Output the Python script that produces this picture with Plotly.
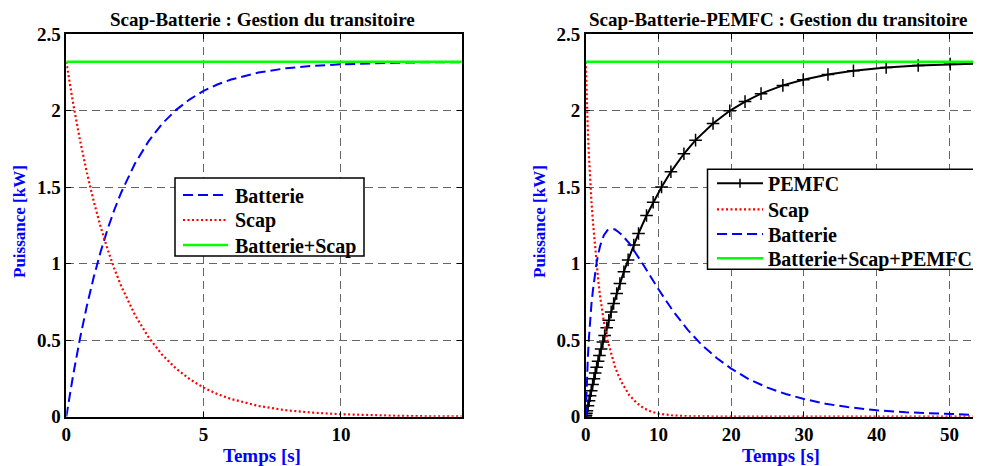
import plotly.graph_objects as go

# ---------------- data ----------------
# Left panel: Scap-Batterie
t_left = [0, 0.25, 0.5, 0.75, 1, 1.25, 1.5, 1.75, 2, 2.5, 3, 3.5, 4, 4.5, 5, 5.5, 6,
          7, 8, 9, 10, 11, 12, 13, 14, 14.4]
batt_left = [0, 0.273, 0.513, 0.725, 0.913, 1.078, 1.224, 1.353, 1.466, 1.655, 1.802,
             1.917, 2.006, 2.075, 2.130, 2.172, 2.204, 2.250, 2.278, 2.294, 2.304,
             2.311, 2.314, 2.317, 2.318, 2.318]
scap_left = [2.32, 2.047, 1.807, 1.595, 1.407, 1.242, 1.096, 0.967, 0.854, 0.665, 0.518,
             0.403, 0.314, 0.245, 0.190, 0.148, 0.116, 0.070, 0.042, 0.026, 0.016,
             0.009, 0.006, 0.003, 0.002, 0.002]
total_left_t = [0, 14.4]
total_left = [2.32, 2.32]

# Right panel: Scap-Batterie-PEMFC
t_right = [0, 0.1, 0.2, 0.3, 0.45, 0.6, 0.8, 1.0, 1.25, 1.5, 1.75, 2.0, 2.5, 3.0, 3.5,
           4.0, 4.5, 5, 6, 7, 8, 9, 10, 12, 14, 16, 18, 20, 22.5, 25, 27.5, 30, 33, 36,
           40, 44, 48, 52, 54.5]
scap_right = [2.32, 2.14, 1.98, 1.86, 1.70, 1.54, 1.40, 1.27, 1.12, 0.99, 0.88, 0.78,
              0.62, 0.50, 0.41, 0.33, 0.27, 0.22, 0.14, 0.09, 0.055, 0.033, 0.02, 0.008,
              0.003, 0.001, 0, 0, 0, 0, 0, 0, 0, 0, 0, 0, 0, 0, 0]
batt_right = [0, 0.157, 0.294, 0.391, 0.518, 0.645, 0.742, 0.829, 0.928, 1.007, 1.068,
              1.119, 1.186, 1.219, 1.225, 1.225, 1.208, 1.187, 1.133, 1.062, 0.987,
              0.910, 0.833, 0.691, 0.569, 0.467, 0.384, 0.314, 0.243, 0.190, 0.148,
              0.116, 0.084, 0.063, 0.042, 0.029, 0.020, 0.013, 0.010]
t_pemfc = [0, 0.04, 0.1, 0.17, 0.31, 0.46, 0.61, 0.76, 0.95, 1.13, 1.31, 1.5, 1.7, 1.89,
           2.12, 2.36, 2.6, 2.89, 3.17, 3.5, 3.84, 4.26, 4.7, 5.25, 5.83, 6.61, 7.26,
           8.36, 9.27, 10.43, 11.71, 13.5, 15.1, 17.5, 19.8, 21.9, 24.1, 27.1, 29.9,
           33.3, 36.8, 41.3, 45.7, 50.1, 54.5]
pemfc = [0, 0.009, 0.023, 0.039, 0.071, 0.104, 0.137, 0.170, 0.210, 0.248, 0.285, 0.323,
         0.363, 0.400, 0.443, 0.488, 0.531, 0.582, 0.630, 0.685, 0.740, 0.805, 0.870,
         0.948, 1.025, 1.122, 1.198, 1.315, 1.402, 1.502, 1.601, 1.719, 1.808, 1.917,
         2.000, 2.060, 2.112, 2.166, 2.203, 2.237, 2.262, 2.283, 2.296, 2.305, 2.310]
total_right_t = [0, 54.5]
total_right = [2.32, 2.32]

left_xticks = [0, 5, 10]
right_xticks = [0, 10, 20, 30, 40, 50]
yticks = [0, 0.5, 1, 1.5, 2, 2.5]
ytick_text = ["0", "0.5", "1", "1.5", "2", "2.5"]

left_legend = ["Batterie", "Scap", "Batterie+Scap"]
right_legend = ["PEMFC", "Scap", "Batterie", "Batterie+Scap+PEMFC"]

# ---------------- styling ----------------
FAM = "Liberation Serif, Times New Roman, serif"
BLUE = "#0000ff"
RED = "#ff0000"
GREEN = "#00ff00"
DASH = "10px,5px"
DOT = "2px,2.5px"

# page has an 8px body margin: figure is 8px smaller than the window
OFF = 8
W, H = 981 - OFF, 466 - OFF


def px(x):
    return (x - OFF) / W


def py(y):
    return 1 - (y - OFF) / H


styles_left = [dict(color=BLUE, width=2, dash=DASH),
               dict(color=RED, width=2.2, dash=DOT),
               dict(color=GREEN, width=2.5)]
styles_right = [dict(color="black", width=2),
                dict(color=RED, width=2.2, dash=DOT),
                dict(color=BLUE, width=2, dash=DASH),
                dict(color=GREEN, width=2.5)]

fig = go.Figure()

# Left panel traces
fig.add_trace(go.Scatter(x=t_left, y=batt_left, mode="lines", name=left_legend[0],
                         line=styles_left[0], xaxis="x", yaxis="y"))
fig.add_trace(go.Scatter(x=t_left, y=scap_left, mode="lines", name=left_legend[1],
                         line=styles_left[1], xaxis="x", yaxis="y"))
fig.add_trace(go.Scatter(x=total_left_t, y=total_left, mode="lines", name=left_legend[2],
                         line=styles_left[2], xaxis="x", yaxis="y"))

# Right panel traces
fig.add_trace(go.Scatter(x=t_pemfc, y=pemfc, mode="lines+markers", name=right_legend[0],
                         line=styles_right[0],
                         marker=dict(symbol="cross-thin", size=9, color="black",
                                     line=dict(color="black", width=1.5)),
                         xaxis="x2", yaxis="y2"))
fig.add_trace(go.Scatter(x=t_right, y=scap_right, mode="lines", name=right_legend[1],
                         line=styles_right[1], xaxis="x2", yaxis="y2"))
fig.add_trace(go.Scatter(x=t_right, y=batt_right, mode="lines", name=right_legend[2],
                         line=styles_right[2], xaxis="x2", yaxis="y2"))
fig.add_trace(go.Scatter(x=total_right_t, y=total_right, mode="lines",
                         name=right_legend[3], line=styles_right[3],
                         xaxis="x2", yaxis="y2"))

tickfont = dict(family=FAM, size=19, color="black", weight="bold")
axis_common = dict(showline=True, linecolor="black", linewidth=1.5, mirror="ticks",
                   ticks="inside", ticklen=5, tickcolor="black", tickwidth=1,
                   showgrid=True, gridcolor="#666666", gridwidth=1, griddash="8px,5px",
                   zeroline=False, tickfont=tickfont, fixedrange=True,
                   automargin=False)

ydom = [py(416.7), py(34.3)]

fig.update_layout(
    template="none",
    width=W, height=H,
    margin=dict(l=0, r=0, t=0, b=0, pad=0, autoexpand=False),
    paper_bgcolor="white", plot_bgcolor="white",
    showlegend=False,
    xaxis=dict(domain=[px(66.3), px(461.7)], range=[0, 14.4], tickvals=left_xticks,
               anchor="y", **axis_common),
    yaxis=dict(domain=ydom, range=[0, 2.5], tickvals=yticks, ticktext=ytick_text,
               anchor="x", **axis_common),
    xaxis2=dict(domain=[px(585.7), px(979.3)], range=[0, 54.1], tickvals=right_xticks,
                anchor="y2", **axis_common),
    yaxis2=dict(domain=ydom, range=[0, 2.5], tickvals=yticks, ticktext=ytick_text,
                anchor="x2", **axis_common),
)

# ---------------- legends (boxes drawn in page space) ----------------
shapes = []
annotations = []
legend_font = dict(family=FAM, size=20, color="black", weight="bold")


def add_legend(box, rows, names, styles, x_line, x_text, marker_idx=None):
    x0, y0_, x1, y1_ = box
    shapes.append(dict(type="rect", xref="paper", yref="paper",
                       x0=px(x0), x1=px(x1), y0=py(y1_), y1=py(y0_),
                       line=dict(color="black", width=1.5), fillcolor="white",
                       layer="above"))
    for i, (yc, name, st) in enumerate(zip(rows, names, styles)):
        shapes.append(dict(type="line", xref="paper", yref="paper",
                           x0=px(x_line[0]), x1=px(x_line[1]), y0=py(yc), y1=py(yc),
                           line=st, layer="above"))
        if marker_idx is not None and i == marker_idx:
            xc = (x_line[0] + x_line[1]) / 2
            shapes.append(dict(type="line", xref="paper", yref="paper",
                               x0=px(xc), x1=px(xc), y0=py(yc - 4.5), y1=py(yc + 4.5),
                               line=dict(color="black", width=1.5), layer="above"))
        annotations.append(dict(text=name, x=px(x_text), y=py(yc + 1), xref="paper",
                                yref="paper", xanchor="left", yanchor="middle",
                                showarrow=False, font=legend_font))


add_legend((175, 178, 364, 256), [195, 220, 245], left_legend, styles_left,
           (183, 228), 233)
add_legend((707.5, 169.3, 978.3, 269.3), [183.3, 209.3, 234, 258.3], right_legend,
           styles_right, (717, 763), 766, marker_idx=0)

title_font = dict(family=FAM, size=19, color="black", weight="bold")
label_font = dict(family=FAM, size=19, color=BLUE, weight="bold")
ylabel_font = dict(family=FAM, size=17, color=BLUE, weight="bold")

texts = [
    dict(text="Scap-Batterie : Gestion du transitoire", x=px(262), y=py(20),
         font=title_font),
    dict(text="Scap-Batterie-PEMFC : Gestion du transitoire", x=px(778), y=py(20),
         font=title_font),
    dict(text="Temps [s]", x=px(262), y=py(455), font=label_font),
    dict(text="Temps [s]", x=px(781), y=py(455), font=label_font),
    dict(text="Puissance [kW]", x=px(19), y=py(222), font=ylabel_font, textangle=-90),
    dict(text="Puissance [kW]", x=px(539), y=py(222), font=ylabel_font, textangle=-90),
]
for a in texts:
    a.update(xref="paper", yref="paper", showarrow=False, xanchor="center",
             yanchor="middle")
annotations.extend(texts)

fig.update_layout(shapes=shapes, annotations=annotations)

fig.write_html("out.html")
